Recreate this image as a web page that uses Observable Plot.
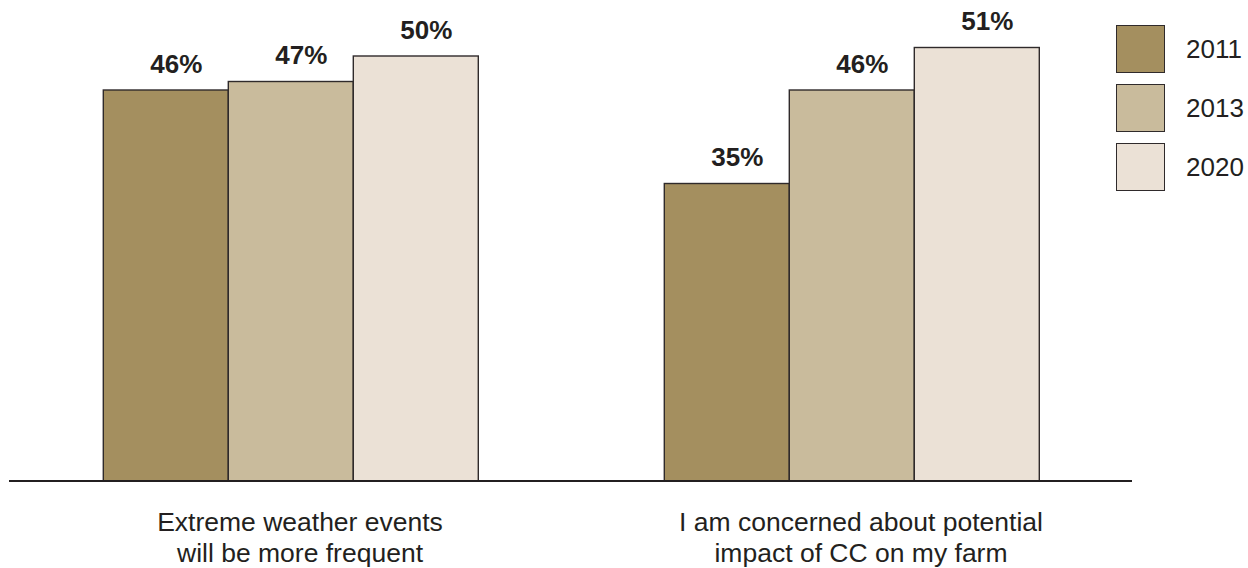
<!DOCTYPE html>
<html>
<head>
<meta charset="utf-8">
<script src="https://cdn.jsdelivr.net/npm/d3@7"></script>
<script src="https://cdn.jsdelivr.net/npm/@observablehq/plot@0.6"></script>
<style>
  html, body { margin: 0; padding: 0; background: #ffffff; }
  #wrap { position: relative; width: 1248px; height: 568px; font-family: "Liberation Sans", Arial, Helvetica, sans-serif; color: #231f20; }
  #legend { position: absolute; left: 1116px; top: 25px; }
  .item { display: flex; align-items: center; height: 48px; margin-bottom: 11px; }
  .swatch { width: 47px; height: 46px; border: 1.5px solid #2f2a2b; }
  .item span { margin-left: 21px; font-size: 26px; line-height: 1; }
</style>
</head>
<body>
<div id="wrap"><div id="legend"></div></div>
<script>
// Statements and survey years
const categories = [
  "Extreme weather events\nwill be more frequent",
  "I am concerned about potential\nimpact of CC on my farm"
];
const years = ["2011", "2013", "2020"];

// Share of respondents agreeing (%), one array per year
const values2011 = [46, 35];
const values2013 = [47, 46];
const values2020 = [50, 51];

const colors = ["#a48f5f", "#c9bb9c", "#ebe1d6"];
const ink = "#231f20";

const seriesByYear = [values2011, values2013, values2020];
const data = [];
years.forEach((year, j) => {
  categories.forEach((category, i) => {
    data.push({category, year, value: seriesByYear[j][i]});
  });
});

const chart = Plot.plot({
  width: 1248,
  height: 568,
  marginTop: 5,
  marginBottom: 87,
  marginLeft: 102.7,
  marginRight: 209.7,
  style: {fontFamily: '"Liberation Sans", Arial, Helvetica, sans-serif', color: ink, background: "#ffffff"},
  fx: {domain: categories, paddingInner: 0.3323, paddingOuter: 0},
  x: {domain: years, padding: 0, axis: null},
  y: {domain: [0, 56], axis: null},
  color: {domain: years, range: colors},
  marks: [
    Plot.barY(data, {
      fx: "category",
      x: "year",
      y: "value",
      fill: "year",
      stroke: "#2f2a2b",
      strokeWidth: 1.4
    }),
    Plot.text(data, {
      fx: "category",
      x: "year",
      y: "value",
      text: (d) => `${d.value}%`,
      lineAnchor: "bottom",
      dy: -18,
      dx: 10,
      fontSize: 26,
      fontWeight: "bold",
      fill: ink
    }),
    Plot.axisFx({
      anchor: "bottom",
      label: null,
      tickSize: 0,
      tickPadding: 28,
      fontSize: 26.5,
      lineHeight: 1.15,
      dx: 9,
      fill: ink
    })
  ]
});

document.getElementById("wrap").prepend(chart);

// Baseline across the full width of the plotting area
const y0 = chart.scale("y").apply(0);
d3.select(chart).append("line")
  .attr("x1", 9).attr("x2", 1132)
  .attr("y1", y0).attr("y2", y0)
  .attr("stroke", ink)
  .attr("stroke-width", 2.2);

// Legend: one square swatch per survey year
const color = chart.scale("color");
const legend = d3.select("#legend");
years.forEach((year) => {
  const item = legend.append("div").attr("class", "item");
  item.append("div").attr("class", "swatch").style("background", color.apply(year));
  item.append("span").text(year);
});
</script>
</body>
</html>
